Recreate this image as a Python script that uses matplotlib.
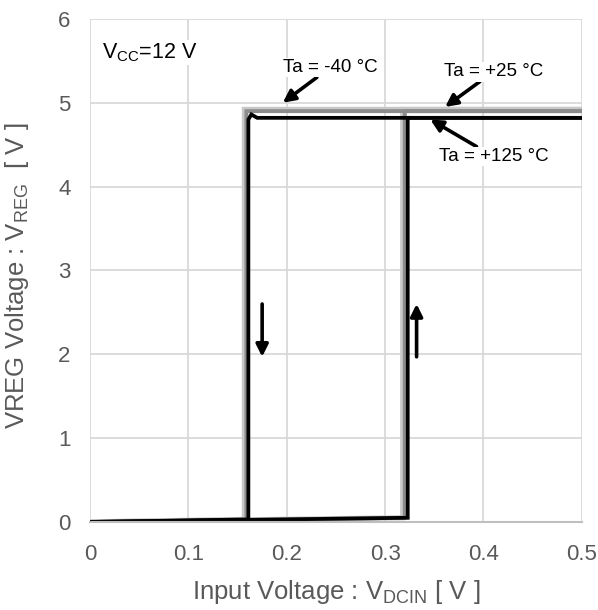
import matplotlib.pyplot as plt

plt.rcParams["font.family"] = ["Liberation Sans", "DejaVu Sans"]

# hysteresis loops, V_DCIN [V] vs V_REG [V]
vin_up_m40 = [0, 0.318, 0.318, 0.5]
vreg_up_m40 = [0, 0.05, 4.92, 4.92]
vin_dn_m40 = [0.5, 0.157, 0.157, 0]
vreg_dn_m40 = [4.92, 4.92, 0.03, 0]

vin_up_25 = [0, 0.320, 0.320, 0.5]
vreg_up_25 = [0, 0.05, 4.90, 4.90]
vin_dn_25 = [0.5, 0.159, 0.159, 0]
vreg_dn_25 = [4.90, 4.90, 0.03, 0]

vin_up_125 = [0, 0.323, 0.323, 0.5]
vreg_up_125 = [0, 0.05, 4.82, 4.82]
vin_dn_125 = [0.5, 0.170, 0.164, 0.161, 0.161, 0]
vreg_dn_125 = [4.82, 4.82, 4.86, 4.80, 0.03, 0]

xticks = [0, 0.1, 0.2, 0.3, 0.4, 0.5]
xticklabels = ["0", "0.1", "0.2", "0.3", "0.4", "0.5"]
yticks = [0, 1, 2, 3, 4, 5, 6]

fig = plt.figure(figsize=(5.98, 6.10), dpi=100)
ax = fig.add_axes([0.1505, 0.1443, 0.8225, 0.8247])

ax.plot(vin_up_m40, vreg_up_m40, color="#c8c8c8", lw=3.8, solid_joinstyle="miter")
ax.plot(vin_dn_m40, vreg_dn_m40, color="#c8c8c8", lw=3.8, solid_joinstyle="miter")
ax.plot(vin_up_25, vreg_up_25, color="#8c8c8c", lw=2.8, solid_joinstyle="miter")
ax.plot(vin_dn_25, vreg_dn_25, color="#8c8c8c", lw=2.8, solid_joinstyle="miter")
ax.plot(vin_up_125, vreg_up_125, color="black", lw=2.7, solid_joinstyle="miter")
ax.plot(vin_dn_125, vreg_dn_125, color="black", lw=2.7, solid_joinstyle="miter")

ax.set_xlim(0, 0.5)
ax.set_ylim(0, 6)
ax.set_xticks(xticks)
ax.set_xticklabels(xticklabels)
ax.set_yticks(yticks)
ax.grid(True, color="#d9d9d9", lw=1.3)
ax.set_axisbelow(True)
for s in ["top", "right", "left"]:
    ax.spines[s].set_visible(False)
ax.spines["bottom"].set_color("#bfbfbf")
ax.spines["bottom"].set_linewidth(1.5)
ax.tick_params(length=0, labelsize=16, colors="#595959")
ax.tick_params(axis="x", pad=16)
ax.tick_params(axis="y", pad=14)

ax.set_xlabel("Input Voltage : V$_{\\mathregular{DCIN}}$ [ V ]", fontsize=18.5,
              color="#595959")
ax.xaxis.set_label_coords(0.5, -0.112)
ax.set_ylabel("VREG Voltage : V$_{\\mathregular{REG}}$  [ V ]", fontsize=18.5,
              color="#595959")
ax.yaxis.set_label_coords(-0.12, 0.49)

bbox = dict(facecolor="white", edgecolor="none", pad=1)
ax.text(0.012, 5.6, "V$_{\\mathregular{CC}}$=12 V", fontsize=15.5, va="center",
        bbox=bbox)

arr = dict(arrowstyle="-|>", color="black", lw=2.6, mutation_scale=18,
           shrinkA=0, shrinkB=0)
ax.annotate("Ta = -40 °C", xy=(0.196, 5.0), xytext=(0.244, 5.42),
            fontsize=13.5, ha="center", va="center", arrowprops=arr, bbox=bbox)
ax.annotate("Ta = +25 °C", xy=(0.361, 4.95), xytext=(0.41, 5.37),
            fontsize=13.5, ha="center", va="center", arrowprops=arr, bbox=bbox)
ax.annotate("Ta = +125 °C", xy=(0.346, 4.80), xytext=(0.41, 4.36),
            fontsize=13.5, ha="center", va="center", arrowprops=arr, bbox=bbox)

# direction arrows
ax.annotate("", xy=(0.175, 1.97), xytext=(0.175, 2.6), arrowprops=arr)
ax.annotate("", xy=(0.332, 2.6), xytext=(0.332, 1.97), arrowprops=arr)

fig.savefig("out.png", dpi=100)
